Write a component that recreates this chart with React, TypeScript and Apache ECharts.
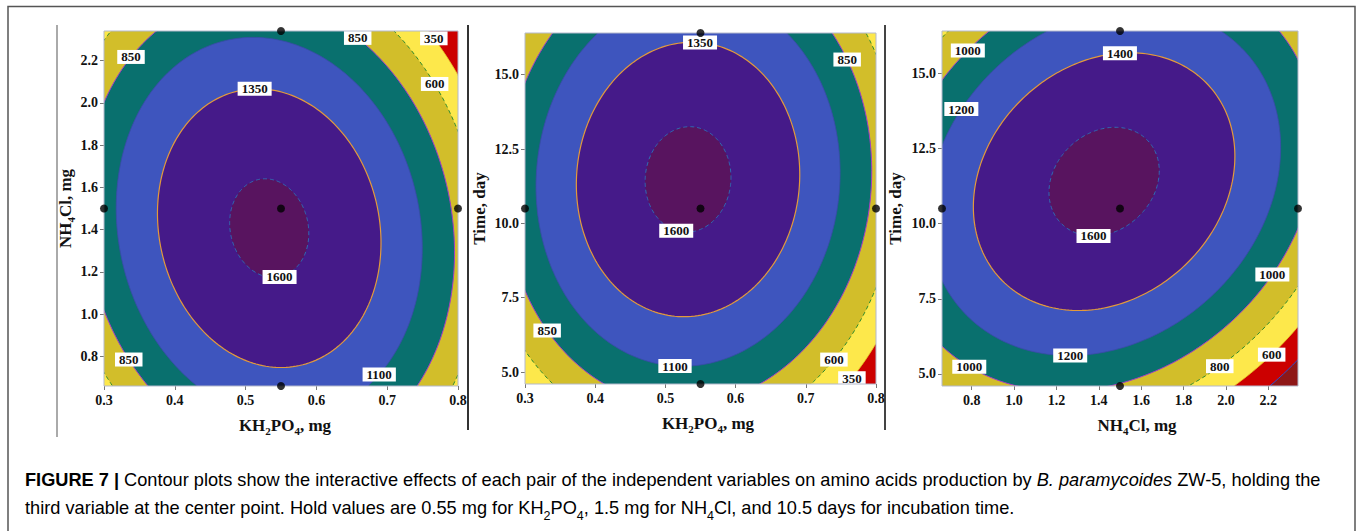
import React, { useEffect, useRef } from 'react';
import * as echarts from 'echarts';

// ---------- data ----------
// factors: 0 = KH2PO4 (mg), 1 = NH4Cl (mg), 2 = Time (day)
const levelsKH = [0.3, 0.55, 0.8];
const levelsNH = [0.66, 1.5, 2.34];
const levelsTime = [4.6, 10.5, 16.4];
const factorLevels = [levelsKH, levelsNH, levelsTime];

// fitted quadratic response (scaled units, -1..1 across each plotted range)
const coefB0 = 1626;
const coefLinear = [-110, -112, 162];
const coefQuad = [-725, -469, -480];
const coefInteraction = [-123, 43, 187]; // x1x2, x1x3, x2x3

const panelFactors = [[0, 1], [0, 2], [1, 2]];
const contourLevelsA = [350, 600, 850, 1100, 1350, 1600];
const contourLevelsB = [400, 600, 800, 1000, 1200, 1400, 1600];
const panelLevels = [contourLevelsA, contourLevelsA, contourLevelsB];

// contour labels: [level, direction (deg) from the optimum]
const labelsPanel1 = [[850, 129], [850, 65], [350, 49], [600, 41], [1350, 96], [1600, -78], [850, -137], [1100, -53]];
const labelsPanel2 = [[1350, 85], [850, 37], [1600, -103], [850, -133], [1100, -94], [600, -51], [350, -50.5]];
const labelsPanel3 = [[1000, 136], [1400, 83], [1200, 153], [1600, -101], [1000, -29], [1200, -101], [1000, -126], [800, -58], [600, -46]];
const panelLabels = [labelsPanel1, labelsPanel2, labelsPanel3];

const xTitles = ['{b|KH}{s|2}{b|PO}{s|4}{b|, mg}', '{b|KH}{s|2}{b|PO}{s|4}{b|, mg}', '{b|NH}{s|4}{b|Cl, mg}'];
const yTitles = ['{b|NH}{s|4}{b|Cl, mg}', '{b|Time, day}', '{b|Time, day}'];
const tickStep = [0.1, 0.2, 2.5];

// ---------- style ----------
const bandPalette = ['#8e1717', '#cc0000', '#fde84b', '#d2be2a', '#09706e', '#3e55be', '#451a89', '#58145f'];
const lineFromTop = [
  { color: '#2f6db5', width: 1, dash: [4, 3] },
  { color: '#e39a3b', width: 1.2, dash: null },
  { color: '#3a4aa8', width: 0.8, dash: null },
  { color: '#a43cc8', width: 1, dash: null },
  { color: '#2e8b2e', width: 1, dash: [4, 3] },
  { color: '#e6cf2a', width: 0.8, dash: null },
  { color: '#2a4fd0', width: 1, dash: null },
];
const gridRects = [
  { left: 104, top: 31, width: 354, height: 355 },
  { left: 525, top: 33, width: 351, height: 351 },
  { left: 942, top: 31, width: 356, height: 355 },
];
const yNameGaps = [28, 35, 36];
const xNamePads = [8, 15, 34];
const SERIF = '"Liberation Serif", "Times New Roman", serif';
const SANS = '"Liberation Sans", Arial, sans-serif';

// ---------- model helpers ----------
function interIndex(i: number, j: number) {
  const a = Math.min(i, j), b = Math.max(i, j);
  if (a === 0 && b === 1) return 0;
  if (a === 0 && b === 2) return 1;
  return 2;
}
function slice(i: number, j: number) {
  const m = {
    g0: coefB0, g1: coefLinear[i], g2: coefLinear[j],
    a: coefQuad[i], c: coefQuad[j], b: coefInteraction[interIndex(i, j)], i, j,
  };
  const det = 4 * m.a * m.c - m.b * m.b;
  const u0 = (-2 * m.c * m.g1 + m.b * m.g2) / det;
  const v0 = (-2 * m.a * m.g2 + m.b * m.g1) / det;
  const fmax = m.g0 + 0.5 * (m.g1 * u0 + m.g2 * v0);
  return { ...m, u0, v0, fmax };
}
function toData(m: any, u: number, v: number) {
  const fi = factorLevels[m.i], fj = factorLevels[m.j];
  const ci = fi[1], hi = (fi[2] - fi[0]) / 2;
  const cj = fj[1], hj = (fj[2] - fj[0]) / 2;
  return [ci + u * hi, cj + v * hj];
}
function pointAt(m: any, level: number, theta: number) {
  const cs = Math.cos(theta), sn = Math.sin(theta);
  const q = -(m.a * cs * cs + m.b * cs * sn + m.c * sn * sn);
  const r = Math.sqrt(Math.max(0, m.fmax - level) / q);
  return toData(m, m.u0 + r * cs, m.v0 + r * sn);
}
function ring(m: any, level: number) {
  const pts: number[][] = [];
  const n = 260;
  for (let k = 0; k < n; k++) pts.push(pointAt(m, level, (2 * Math.PI * k) / n));
  return pts;
}

function buildOption() {
  const grid: any[] = [];
  const xAxis: any[] = [];
  const yAxis: any[] = [];
  const series: any[] = [];
  const graphic: any[] = [];

  panelFactors.forEach(([fi, fj], p) => {
    const m = slice(fi, fj);
    const levels = panelLevels[p];
    const colors = bandPalette.slice(bandPalette.length - (levels.length + 1));
    const xl = factorLevels[fi], yl = factorLevels[fj];
    const g = gridRects[p];
    grid.push({ ...g, containLabel: false });

    const labelStyle = { fontFamily: SERIF, fontWeight: 'bold', fontSize: 14, color: '#111' };
    const rich = {
      b: { fontFamily: SERIF, fontWeight: 'bold', fontSize: 17, color: '#111', lineHeight: 22 },
      s: { fontFamily: SERIF, fontWeight: 'bold', fontSize: 11, color: '#111', lineHeight: 14, verticalAlign: 'bottom' },
    };
    const isNiceX = fi === 0;
    xAxis.push({
      gridIndex: p, type: 'value', min: xl[0], max: xl[2],
      minInterval: tickStep[fi], maxInterval: tickStep[fi],
      axisLine: { show: false },
      axisTick: { show: true, length: 4, lineStyle: { color: '#777' } },
      splitLine: { show: false },
      axisLabel: { ...labelStyle, margin: 7, formatter: (v: number) => v.toFixed(1), showMinLabel: isNiceX, showMaxLabel: isNiceX },
      name: xTitles[p], nameLocation: 'middle', nameGap: 28,
      nameTextStyle: { rich, padding: [0, 0, 0, xNamePads[p]] },
    });
    yAxis.push({
      gridIndex: p, type: 'value', min: yl[0], max: yl[2],
      minInterval: tickStep[fj], maxInterval: tickStep[fj],
      axisLine: { show: false },
      axisTick: { show: true, length: 4, lineStyle: { color: '#777' } },
      splitLine: { show: false },
      axisLabel: { ...labelStyle, margin: 6, formatter: (v: number) => v.toFixed(1), showMinLabel: false, showMaxLabel: false },
      name: yTitles[p], nameLocation: 'middle', nameGap: yNameGaps[p],
      nameTextStyle: { rich },
    });

    const cx = xl[1], cy = yl[1];
    series.push({
      type: 'custom', xAxisIndex: p, yAxisIndex: p, clip: true, silent: true, z: 1,
      data: [[cx, cy, -1], ...levels.map((_, k) => [cx, cy, k])],
      encode: { x: 0, y: 1 },
      renderItem: (params: any, api: any) => {
        const k = api.value(2);
        if (k < 0) {
          const cs = params.coordSys;
          return { type: 'rect', shape: { x: cs.x, y: cs.y, width: cs.width, height: cs.height }, style: { fill: colors[0] } };
        }
        const pts = ring(m, levels[k]).map((d) => api.coord(d));
        const ls = lineFromTop[levels.length - 1 - k];
        return {
          type: 'group',
          children: [
            { type: 'polygon', shape: { points: pts }, style: { fill: colors[k + 1] } },
            { type: 'polygon', shape: { points: pts }, style: { fill: 'none', stroke: ls.color, lineWidth: ls.width, lineDash: ls.dash } },
          ],
        };
      },
    });

    const labelData = panelLabels[p].map(([L, ang]) => {
      const d = pointAt(m, L, (ang * Math.PI) / 180);
      return [d[0], d[1], L];
    });
    series.push({
      type: 'custom', xAxisIndex: p, yAxisIndex: p, clip: false, silent: true, z: 6,
      data: labelData, encode: { x: 0, y: 1 },
      renderItem: (params: any, api: any) => {
        const c = api.coord([api.value(0), api.value(1)]);
        return {
          type: 'text', x: c[0], y: c[1],
          style: {
            text: String(api.value(2)), align: 'center', verticalAlign: 'middle',
            fill: '#111', fontFamily: SERIF, fontWeight: 'bold', fontSize: 13,
            backgroundColor: '#ffffff', padding: [1, 4, 0, 4],
          },
        };
      },
    });

    const design = [[xl[0], yl[1]], [xl[2], yl[1]], [xl[1], yl[0]], [xl[1], yl[2]], [xl[1], yl[1]]];
    series.push({
      type: 'scatter', xAxisIndex: p, yAxisIndex: p, data: design, symbolSize: 8,
      itemStyle: { color: '#000' }, clip: false, z: 10, silent: true,
    });

    graphic.push({
      type: 'rect', silent: true, z: 8,
      shape: { x: g.left, y: g.top, width: g.width, height: g.height },
      style: { fill: 'none', stroke: '#b4b9cc', lineWidth: 1 },
    });
  });

  graphic.push(
    { type: 'polyline', silent: true, shape: { points: [[8, 540], [8, 6.5], [1355, 6.5], [1355, 540]] }, style: { fill: 'none', stroke: '#555', lineWidth: 1.5 } },
    { type: 'line', silent: true, shape: { x1: 57, y1: 25, x2: 57, y2: 437 }, style: { stroke: '#aaa', lineWidth: 2 } },
    { type: 'line', silent: true, shape: { x1: 468, y1: 25, x2: 468, y2: 430 }, style: { stroke: '#333', lineWidth: 2 } },
    { type: 'line', silent: true, shape: { x1: 885, y1: 25, x2: 885, y2: 430 }, style: { stroke: '#444', lineWidth: 2 } },
  );

  const FS = 18.2;
  const capRich = {
    b: { fontFamily: SANS, fontWeight: 'bold', fontSize: FS, color: '#231f20', lineHeight: 28 },
    n: { fontFamily: SANS, fontSize: FS, color: '#231f20', lineHeight: 28 },
    i: { fontFamily: SANS, fontStyle: 'italic', fontSize: FS, color: '#231f20', lineHeight: 28 },
    s: { fontFamily: SANS, fontSize: 12.5, color: '#231f20', lineHeight: 18, verticalAlign: 'bottom' },
  };
  graphic.push({
    type: 'text', left: 25, top: 471, silent: true,
    style: {
      text:
        '{b|FIGURE 7 | }{n|Contour plots show the interactive effects of each pair of the independent variables on amino acids production by }{i|B. paramycoides}{n| ZW-5, holding the}\n' +
        '{n|third variable at the center point. Hold values are 0.55 mg for KH}{s|2}{n|PO}{s|4}{n|, 1.5 mg for NH}{s|4}{n|Cl, and 10.5 days for incubation time.}',
      rich: capRich,
    },
  });

  return { animation: false, backgroundColor: '#ffffff', grid, xAxis, yAxis, series, graphic };
}

export default function App() {
  const ref = useRef<HTMLDivElement>(null);
  useEffect(() => {
    const chart = echarts.init(ref.current!, null, { renderer: 'svg' });
    chart.setOption(buildOption() as any);
    return () => chart.dispose();
  }, []);
  return <div ref={ref} style={{ position: 'fixed', left: 0, top: 0, width: 1357, height: 531, background: '#fff' }} />;
}
